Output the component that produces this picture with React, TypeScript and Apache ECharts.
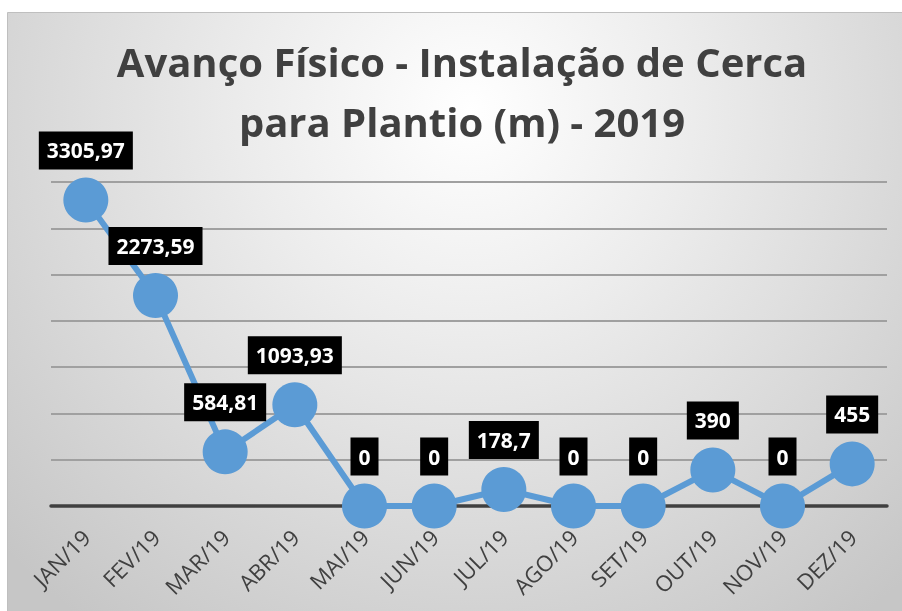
import React, { useEffect, useRef } from "react";
import * as echarts from "echarts";

const categories = ["JAN/19", "FEV/19", "MAR/19", "ABR/19", "MAI/19", "JUN/19", "JUL/19", "AGO/19", "SET/19", "OUT/19", "NOV/19", "DEZ/19"];
const values = [3305.97, 2273.59, 584.81, 1093.93, 0, 0, 178.7, 0, 0, 390, 0, 455];
const titleLines = ["Avanço Físico - Instalação de Cerca", "para Plantio (m) - 2019"];
const yMin = 0;
const yMax = 3500;
const yInterval = 500;

export default function App() {
  const ref = useRef<HTMLDivElement>(null);
  useEffect(() => {
    if (!ref.current) return;
    const chart = echarts.init(ref.current, undefined, { renderer: "svg" });
    chart.setOption({
      animation: false,
      graphic: [
        {
          type: "rect",
          z: -100,
          silent: true,
          shape: { x: 7.5, y: 12.5, width: 900, height: 610 },
          style: {
            fill: new echarts.graphic.RadialGradient(470, 110, 640, [
              { offset: 0, color: "#ffffff" },
              { offset: 0.35, color: "#ececec" },
              { offset: 1, color: "#c6c6c6" },
            ], true),
            stroke: "#bfbfbf",
            lineWidth: 1,
          },
        },
        {
          type: "text",
          z: 10,
          silent: true,
          x: 462,
          y: 31,
          style: {
            text: titleLines.join("\n"),
            align: "center",
            verticalAlign: "top",
            fontFamily: "Open Sans",
            fontWeight: "bold",
            fontSize: 40,
            lineHeight: 60,
            fill: "#404040",
          },
        },
      ],
      grid: { left: 51, right: 15, top: 182, bottom: 105, containLabel: false },
      xAxis: {
        type: "category",
        data: categories,
        boundaryGap: true,
        axisLine: { show: true, lineStyle: { color: "#404040", width: 3.5 } },
        axisTick: { show: false },
        axisLabel: {
          rotate: 45,
          margin: 27,
          interval: 0,
          fontFamily: "Open Sans",
          fontSize: 22,
          color: "#404040",
        },
      },
      yAxis: {
        type: "value",
        min: yMin,
        max: yMax,
        interval: yInterval,
        axisLabel: { show: false },
        axisLine: { show: false },
        axisTick: { show: false },
        splitLine: { show: true, lineStyle: { color: "#a0a0a0", width: 2 } },
      },
      series: [
        {
          type: "line",
          data: values,
          symbol: "circle",
          symbolSize: 45,
          lineStyle: { color: "#5b9bd5", width: 6 },
          itemStyle: { color: "#5b9bd5" },
          z: 5,
          label: {
            show: true,
            position: "top",
            distance: 8,
            formatter: (p: any) => String(p.value).replace(".", ","),
            backgroundColor: "#000000",
            color: "#ffffff",
            fontFamily: "Open Sans",
            fontWeight: "bold",
            fontSize: 21,
            lineHeight: 22,
            padding: [8, 8, 8, 8],
          },
        },
      ],
    });
    return () => chart.dispose();
  }, []);
  return <div ref={ref} style={{ position: "fixed", left: 0, top: 0, width: 902, height: 611 }} />;
}
